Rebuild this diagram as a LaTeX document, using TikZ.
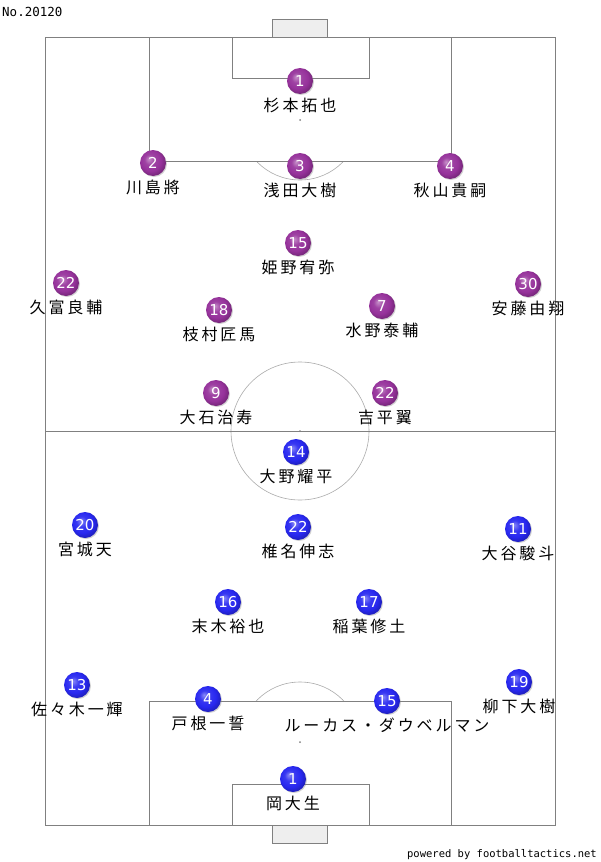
\documentclass[tikz,border=0pt]{standalone}
\usepackage{fontspec}
\newfontfamily\jp[LetterSpace=18]{Noto Sans CJK JP}
\newfontfamily\mono{DejaVu Sans Mono}
\newfontfamily\numfont{DejaVu Sans}
\usetikzlibrary{calc,shadows}
\definecolor{fline}{RGB}{128,128,128}
\definecolor{arcline}{RGB}{170,170,170}
\definecolor{goalfill}{RGB}{238,238,238}
\definecolor{purp}{RGB}{150,50,155}
\definecolor{blu}{RGB}{40,40,240}
\pgfdeclareradialshading{pball}{\pgfpoint{-8bp}{8bp}}{color(0bp)=(purp!55!white); color(10bp)=(purp!92!white); color(20bp)=(purp); color(27bp)=(purp!82!black); color(50bp)=(purp!70!black)}
\pgfdeclareradialshading{bball}{\pgfpoint{-8bp}{8bp}}{color(0bp)=(blu!55!white); color(10bp)=(blu!92!white); color(20bp)=(blu); color(27bp)=(blu!82!black); color(50bp)=(blu!70!black)}
\tikzset{
  fieldline/.style={draw=fline, line width=0.8pt},
  arcl/.style={draw=arcline, line width=0.6pt},
  pbase/.style={circle, minimum size=26pt, inner sep=0pt, text=white, font=\numfont\fontsize{15}{15}\selectfont, drop shadow={shadow xshift=1pt, shadow yshift=-1pt, opacity=0.35}},
  hplayer/.style={pbase, shading=pball},
  aplayer/.style={pbase, shading=bball},
  pname/.style={font=\jp\fontsize{16}{16}\selectfont, text=black, inner sep=0pt},
}
\begin{document}
\begin{tikzpicture}[x=1pt,y=-1pt]
\useasboundingbox (0,0) rectangle (600,862);
\fill[white] (0,0) rectangle (600,862);
% goals
\draw[fieldline, fill=goalfill] (272,19) rectangle (327,37);
\draw[fieldline, fill=goalfill] (272,825) rectangle (327,843);
% arcs
\begin{scope}
\clip (0,161) rectangle (600,300);
\draw[arcl] (300,120) circle (60);
\end{scope}
\begin{scope}
\clip (0,500) rectangle (600,701);
\draw[arcl] (300,742) circle (60);
\end{scope}
\draw[arcl] (300,431) circle (69);
% field
\draw[fieldline] (45,37) rectangle (555,825);
\draw[fieldline] (45,431) -- (555,431);
\draw[fieldline] (149,37) rectangle (451,161);
\draw[fieldline] (232,37) rectangle (369,78);
\draw[fieldline] (149,701) rectangle (451,825);
\draw[fieldline] (232,784) rectangle (369,825);
\fill[fline] (300,120) circle (1);
\fill[fline] (300,431) circle (1);
\fill[fline] (300,742) circle (1);
% texts
\node[anchor=west, font=\mono\fontsize{12.5}{12.5}\selectfont, inner sep=0pt] (no) at (2,12) {No.20120};
\node[anchor=east, font=\mono\fontsize{10.5}{10.5}\selectfont, inner sep=0pt] (pw) at (597,855) {powered by footballtactics.net};
% home (purple)
\foreach \n/\x/\y/\name [count=\i] in {
 1/300/81/杉本拓也,
 2/153/163/川島將,
 3/300/166/浅田大樹,
 4/450/166/秋山貴嗣,
 15/298/243/姫野宥弥,
 22/66/283/久富良輔,
 30/528/284/安藤由翔,
 18/219/310/枝村匠馬,
 7/382/306/水野泰輔,
 9/216/393/大石治寿,
 22/385/393/吉平翼}{
 \node[pname] (hn\i) at (\x,\y+24) {\name};
 \node[hplayer] (h\i) at (\x,\y) {\n};
}
% away (blue)
\foreach \n/\x/\y/\name [count=\i] in {
 14/296/452/大野耀平,
 20/85/525/宮城天,
 22/298/527/椎名伸志,
 11/518/529/大谷駿斗,
 16/228/602/末木裕也,
 17/369/602/稲葉修土,
 13/77/685/佐々木一輝,
 4/208/699/戸根一誓,
 15/387/701/ルーカス・ダウベルマン,
 19/519/682/柳下大樹,
 1/293/779/岡大生}{
 \node[pname] (an\i) at (\x,\y+24) {\name};
 \node[aplayer] (a\i) at (\x,\y) {\n};
}
\end{tikzpicture}
\end{document}
